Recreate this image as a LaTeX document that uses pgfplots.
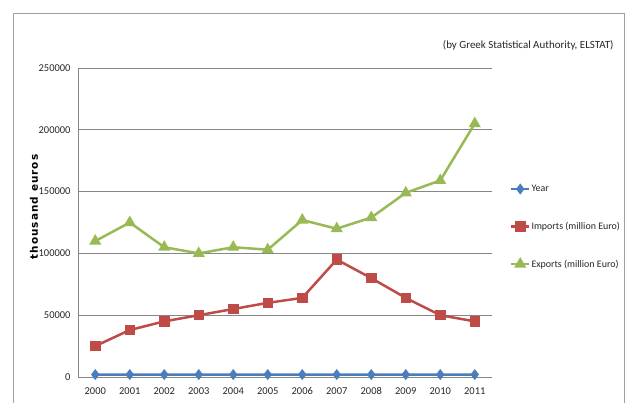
\documentclass[border=0pt]{standalone}
\usepackage{fontspec}
\setmainfont{Carlito}
\newfontfamily\labelfont[LetterSpace=10]{DejaVu Sans}
\usepackage{pgfplots}
\pgfplotsset{compat=1.18}
\definecolor{cyear}{RGB}{74,126,187}
\definecolor{cimp}{RGB}{190,75,72}
\definecolor{cexp}{RGB}{152,185,84}
\definecolor{gridc}{RGB}{134,134,134}
\definecolor{framec}{RGB}{160,160,160}
\begin{document}
\begin{tikzpicture}
\useasboundingbox (0bp,0bp) rectangle (626bp,-403bp);
\draw[framec, line width=1bp] (13bp,-420bp) -- (13bp,-13bp) -- (624.5bp,-13bp) -- (624.5bp,-420bp);
\node[anchor=east, font=\fontsize{11}{13}\selectfont, text=black!85] at (617bp,-45bp) {(by Greek Statistical Authority, ELSTAT)};
\node[rotate=90, font=\labelfont\bfseries\fontsize{10.5}{12}\selectfont] at (34bp,-207bp) {thousand euros};
\begin{axis}[
  at={(78bp,-377bp)}, anchor=south west,
  scale only axis, width=414bp, height=309bp,
  xmin=-0.5, xmax=11.5, ymin=0, ymax=250000,
  xtick={0,...,11}, xticklabels={2000,2001,2002,2003,2004,2005,2006,2007,2008,2009,2010,2011},
  ytick={0,50000,100000,150000,200000,250000},
  scaled y ticks=false,
  yticklabel style={/pgf/number format/fixed, /pgf/number format/1000 sep={}, xshift=-4bp},
  xticklabel style={yshift=-7bp},
  /pgf/number format/assume math mode=true,
  tick label style={font=\fontsize{10.5}{12}\selectfont, text=black!85},
  ymajorgrids, grid style={gridc, line width=0.8bp},
  axis x line*=bottom, axis y line*=left,
  axis line style={gridc, line width=1bp},
  major tick length=0pt,
  legend style={at={(1.043,0.625)}, anchor=north west, draw=none, fill=none,
    font=\fontsize{10}{12}\selectfont, row sep=27bp, inner sep=0pt,
    nodes={inner sep=1bp, text=black!85}},
  legend cell align=left,
  legend image code/.code={\draw[mark repeat=2,mark phase=2] plot coordinates {(0bp,0bp) (9bp,0bp) (18bp,0bp)};},
]
\addplot[cyear, line width=2.5bp, mark=diamond*, mark size=3.5bp, mark options={solid}] coordinates {
(0,2000) (1,2001) (2,2002) (3,2003) (4,2004) (5,2005) (6,2006) (7,2007) (8,2008) (9,2009) (10,2010) (11,2011)};
\addlegendentry{Year}
\addplot[cimp, line width=2.5bp, mark=square*, mark size=4bp] coordinates {
(0,25000) (1,38000) (2,45000) (3,50000) (4,55000) (5,60000) (6,64000) (7,95000) (8,80000) (9,64000) (10,50000) (11,45000)};
\addlegendentry{Imports (million Euro)}
\addplot[cexp, line width=2.5bp, mark=triangle*, mark size=4.5bp] coordinates {
(0,110000) (1,125000) (2,105000) (3,100000) (4,105000) (5,103000) (6,127000) (7,120000) (8,129000) (9,149000) (10,159000) (11,205000)};
\addlegendentry{Exports (million Euro)}
\end{axis}
\end{tikzpicture}
\end{document}
